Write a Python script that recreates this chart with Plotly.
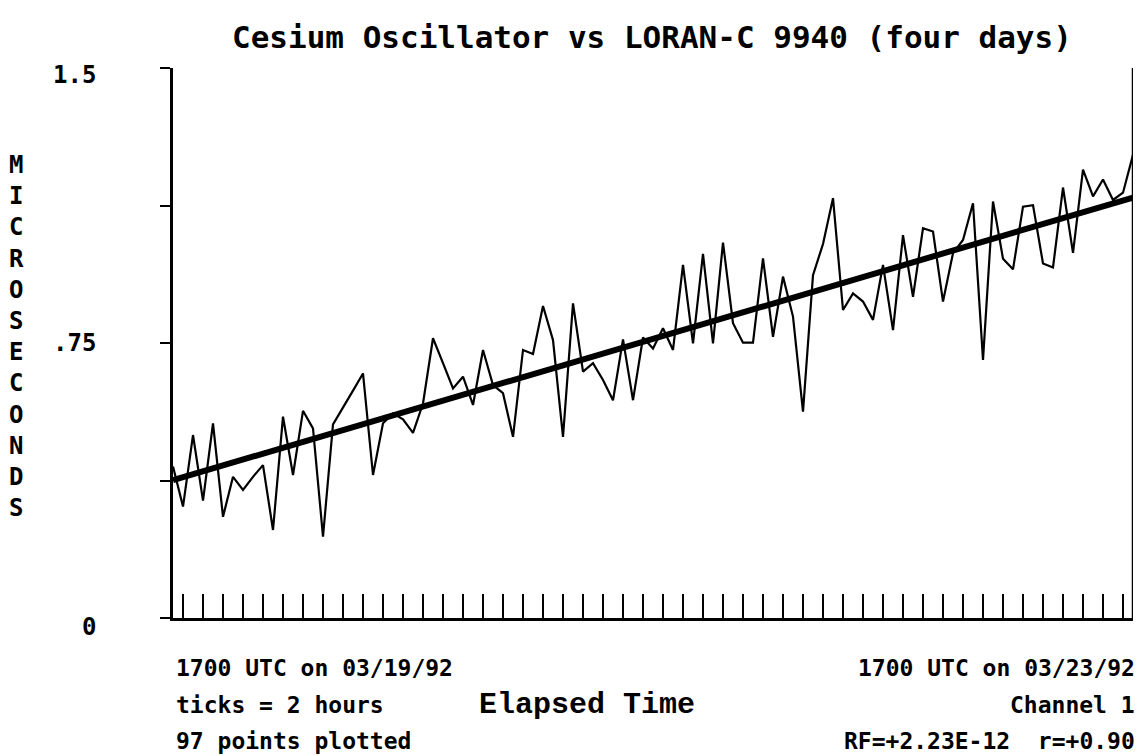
import plotly.graph_objects as go

# ---------------- data ----------------
hours = list(range(97))  # one point per hour, 97 points
offset_us = [
    0.413, 0.304, 0.499, 0.320, 0.531, 0.276, 0.385, 0.349, 0.385, 0.417,
    0.240, 0.549, 0.390, 0.565, 0.517, 0.222, 0.528, 0.573, 0.620, 0.667,
    0.390, 0.531, 0.558, 0.542, 0.505, 0.585, 0.763, 0.695, 0.626, 0.658,
    0.581, 0.731, 0.635, 0.613, 0.494, 0.731, 0.720, 0.851, 0.758, 0.494,
    0.858, 0.672, 0.695, 0.649, 0.594, 0.760, 0.594, 0.765, 0.735, 0.790,
    0.731, 0.963, 0.749, 0.993, 0.749, 1.024, 0.804, 0.751, 0.751, 0.981,
    0.767, 0.931, 0.822, 0.563, 0.935, 1.020, 1.145, 0.840, 0.885, 0.863,
    0.813, 0.963, 0.785, 1.044, 0.876, 1.063, 1.054, 0.863, 0.995, 1.031,
    1.131, 0.704, 1.136, 0.980, 0.951, 1.122, 1.126, 0.967, 0.956, 1.174,
    0.996, 1.223, 1.150, 1.196, 1.140, 1.160, 1.263,
]
rf = 2.23e-12            # fractional frequency from the fit
fit_intercept = 0.376    # microseconds at start
fit_slope = rf * 3600 * 1e6  # microseconds per hour
fit_x = [hours[0], hours[-1]]
fit_y = [fit_intercept + fit_slope * h for h in fit_x]

y_tickvals = [0, 0.375, 0.75, 1.125, 1.5]
y_labels = {1.5: "1.5", 0.75: ".75", 0: "0"}
x_tickvals = list(range(1, 96, 2))  # ticks = 2 hours

title = "Cesium Oscillator vs LORAN-C 9940 (four days)"
left_notes = ["1700 UTC on 03/19/92", "ticks = 2 hours", "97 points plotted"]
right_notes = ["1700 UTC on 03/23/92", "Channel 1", "RF=+2.23E-12  r=+0.90"]
x_title = "Elapsed Time"
y_title = "MICROSECONDS"

# ---------------- figure ----------------
MONO = "DejaVu Sans Mono"
fig = go.Figure()
fig.add_trace(go.Scatter(x=hours, y=offset_us, mode="lines",
                         line=dict(color="black", width=2.2), hoverinfo="skip"))
fig.add_trace(go.Scatter(x=fit_x, y=fit_y, mode="lines",
                         line=dict(color="black", width=6), hoverinfo="skip"))

W, H = 1147, 756
L, R, T, B = 173, 14, 68, 138
pw, ph = W - L - R, H - T - B

# helpers convert window pixels to paper coords
def px(xp):
    return (xp - L) / pw

def py(yp):
    return (H - B - yp) / ph

ann = []
ann.append(dict(text="<b>" + title + "</b>", x=px(652), y=py(37), xref="paper", yref="paper",
                showarrow=False, xanchor="center", yanchor="middle",
                font=dict(family=MONO, size=31, color="black")))
ann.append(dict(text="<b>" + "<br>".join(y_title) + "</b>", x=px(16), y=py(336),
                xref="paper", yref="paper", showarrow=False, xanchor="center",
                yanchor="middle", font=dict(family=MONO, size=24, color="black")))
label_pos = {1.5: 75, 0.75: 343, 0: 627}
for v, t in y_labels.items():
    ann.append(dict(text="<b>" + t + "</b>", x=px(98), y=py(label_pos[v]), xref="paper",
                    yref="paper", showarrow=False, xanchor="right", yanchor="middle",
                    font=dict(family=MONO, size=24, color="black")))
rows = [668, 705, 741]
for t, yy in zip(left_notes, rows):
    ann.append(dict(text="<b>" + t + "</b>", x=px(174), y=py(yy), xref="paper", yref="paper",
                    showarrow=False, xanchor="left", yanchor="middle",
                    font=dict(family=MONO, size=23, color="black")))
for t, yy in zip(right_notes, rows):
    ann.append(dict(text="<b>" + t.replace("  ", "&nbsp;&nbsp;") + "</b>", x=px(1137), y=py(yy),
                    xref="paper", yref="paper", showarrow=False, xanchor="right",
                    yanchor="middle", font=dict(family=MONO, size=23, color="black")))
ann.append(dict(text="<b>" + x_title + "</b>", x=px(587), y=py(705), xref="paper",
                yref="paper", showarrow=False, xanchor="center", yanchor="middle",
                font=dict(family="Liberation Mono", size=30, color="black")))

fig.update_layout(
    width=W, height=H,
    margin=dict(l=L, r=R, t=T, b=B, pad=0),
    paper_bgcolor="white", plot_bgcolor="white",
    showlegend=False,
    annotations=ann,
    shapes=[dict(type="line", xref="x", yref="y", x0=96, x1=96, y0=0, y1=1.5,
                 line=dict(color="black", width=2.5))],
    xaxis=dict(range=[0, 96], showgrid=False, zeroline=False, showline=True,
               linecolor="black", linewidth=2.5, ticks="inside", tickvals=x_tickvals,
               ticklen=24, tickwidth=2, tickcolor="black", showticklabels=False),
    yaxis=dict(range=[0, 1.5], showgrid=False, zeroline=False, showline=True,
               linecolor="black", linewidth=2.5, ticks="outside", tickvals=y_tickvals,
               ticklen=10, tickwidth=2, tickcolor="black", showticklabels=False),
)

fig.write_html("out.html", config={"displayModeBar": False},
               post_script="document.body.style.margin='0px';document.body.style.overflow='hidden';")
